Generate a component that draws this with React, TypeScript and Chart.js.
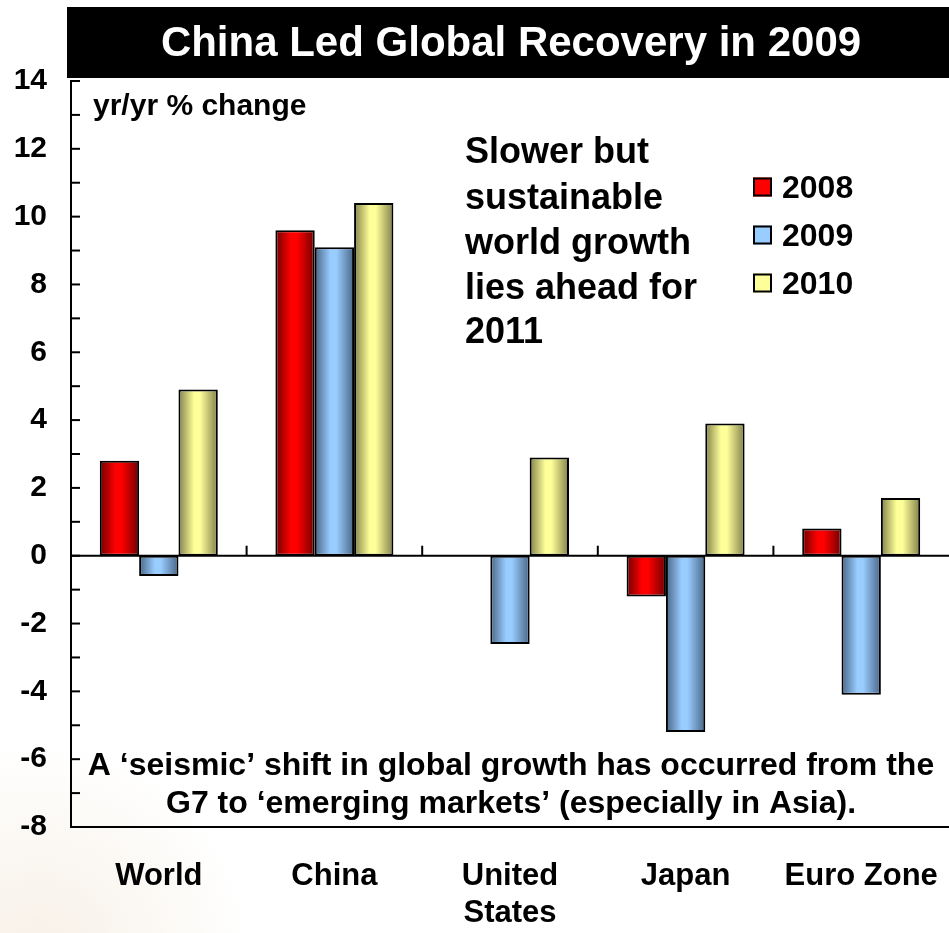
import React, { useEffect, useRef } from 'react';
import { Chart, registerables } from 'chart.js';

Chart.register(...registerables);

// ---- data ----
const categories: (string | string[])[] = ['World', 'China', ['United', 'States'], 'Japan', 'Euro Zone'];
const seriesNames = ['2008', '2009', '2010'];
const values2008 = [2.8, 9.6, 0, -1.2, 0.8];
const values2009 = [-0.6, 9.1, -2.6, -5.2, -4.1];
const values2010 = [4.9, 10.4, 2.9, 3.9, 1.7];
const yMin = -8;
const yMax = 14;
const yLabelStep = 2;

const titleText = 'China Led Global Recovery in 2009';
const unitText = 'yr/yr % change';
const noteLines = ['Slower but', 'sustainable', 'world growth', 'lies ahead for', '2011'];
const bottomLines = [
  'A \u2018seismic\u2019 shift in global growth has occurred from the',
  'G7 to \u2018emerging markets\u2019 (especially in Asia).',
];

// ---- styles ----
const FONT = '"Liberation Sans", Arial, Helvetica, sans-serif';
const baseColors = ['#ff0000', '#99ccff', '#ffff99'];
const edgeColors = ['#700000', '#486585', '#80804a'];

const W = 949;
const H = 933;

const decorPlugin = {
  id: 'decor',
  beforeDraw(chart: any) {
    const ctx = chart.ctx;
    ctx.save();
    ctx.fillStyle = '#ffffff';
    ctx.fillRect(0, 0, chart.width, chart.height);
    const rg = ctx.createRadialGradient(40, chart.height + 20, 0, 40, chart.height + 20, 210);
    rg.addColorStop(0, 'rgba(240,228,210,0.55)');
    rg.addColorStop(1, 'rgba(240,228,210,0)');
    ctx.fillStyle = rg;
    ctx.fillRect(0, 0, 300, chart.height);
    ctx.restore();
  },
  beforeDatasetsDraw(chart: any) {
    const ctx = chart.ctx;
    chart.data.datasets.forEach((ds: any, di: number) => {
      const meta = chart.getDatasetMeta(di);
      meta.data.forEach((el: any) => {
        const p = el.getProps(['x', 'width'], true);
        const g = ctx.createLinearGradient(p.x - p.width / 2, 0, p.x + p.width / 2, 0);
        g.addColorStop(0, edgeColors[di]);
        g.addColorStop(0.4, baseColors[di]);
        g.addColorStop(0.55, baseColors[di]);
        g.addColorStop(1, edgeColors[di]);
        el.options = Object.assign({}, el.options, { backgroundColor: g });
      });
    });
  },
  afterDatasetsDraw(chart: any) {
    const ctx = chart.ctx;
    const area = chart.chartArea;
    const xs = chart.scales.x;
    const ys = chart.scales.y;
    ctx.save();
    ctx.strokeStyle = '#000';
    ctx.lineWidth = 2;
    // zero line
    const y0 = ys.getPixelForValue(0);
    ctx.beginPath();
    ctx.moveTo(area.left, y0);
    ctx.lineTo(area.right, y0);
    ctx.stroke();
    // category boundary ticks on zero line
    for (let i = 1; i < categories.length; i++) {
      const xb = (xs.getPixelForValue(i - 1) + xs.getPixelForValue(i)) / 2;
      ctx.beginPath();
      ctx.moveTo(xb, y0);
      ctx.lineTo(xb, y0 - 10);
      ctx.stroke();
    }
    // y tick marks (inside)
    for (let v = yMin; v <= yMax; v++) {
      const yy = ys.getPixelForValue(v);
      ctx.beginPath();
      ctx.moveTo(area.left, yy);
      ctx.lineTo(area.left + 9, yy);
      ctx.stroke();
    }
    ctx.restore();
  },
  afterDraw(chart: any) {
    const ctx = chart.ctx;
    const area = chart.chartArea;
    ctx.save();
    // title box
    const boxLeft = area.left - 4;
    ctx.fillStyle = '#000';
    ctx.fillRect(boxLeft, 7, chart.width - boxLeft, 71);
    ctx.fillStyle = '#fff';
    ctx.font = `bold 42px ${FONT}`;
    ctx.textAlign = 'center';
    ctx.textBaseline = 'alphabetic';
    ctx.fillText(titleText, 511, 56);

    ctx.fillStyle = '#000';
    ctx.textAlign = 'left';
    ctx.font = `bold 30px ${FONT}`;
    ctx.fillText(unitText, 93, 115);

    ctx.font = `bold 36px ${FONT}`;
    const noteBase = [163, 209, 254, 299, 343];
    noteLines.forEach((t, i) => ctx.fillText(t, 465, noteBase[i]));

    // legend from datasets
    const rowCenters = [187, 235, 283];
    chart.data.datasets.forEach((ds: any, i: number) => {
      const cy = rowCenters[i];
      ctx.fillStyle = baseColors[i];
      ctx.fillRect(753, cy - 9.5, 19, 19);
      ctx.strokeStyle = '#000';
      ctx.lineWidth = 2;
      ctx.strokeRect(754, cy - 8.5, 17, 17);
      ctx.fillStyle = '#000';
      ctx.font = `bold 32px ${FONT}`;
      ctx.fillText(ds.label, 782, cy + 11);
    });

    ctx.textAlign = 'center';
    ctx.font = `bold 32px ${FONT}`;
    ctx.fillText(bottomLines[0], 511, 775);
    ctx.fillText(bottomLines[1], 511, 813);
    ctx.restore();
  },
};

export default function App() {
  const ref = useRef<HTMLCanvasElement | null>(null);
  useEffect(() => {
    if (!ref.current) return;
    Chart.defaults.font.family = FONT;
    const chart = new Chart(ref.current, {
      type: 'bar',
      data: {
        labels: categories as any,
        datasets: [
          { label: seriesNames[0], data: values2008 },
          { label: seriesNames[1], data: values2009 },
          { label: seriesNames[2], data: values2010 },
        ].map((d, i) => ({
          ...d,
          backgroundColor: baseColors[i],
          borderColor: '#000',
          borderWidth: 2,
          borderSkipped: false,
          categoryPercentage: 0.672,
          barPercentage: 1,
        })),
      },
      options: {
        responsive: false,
        animation: false,
        events: [],
        devicePixelRatio: 1,
        layout: { padding: { top: 81, left: 0, right: 0, bottom: 0 } },
        plugins: {
          legend: { display: false },
          tooltip: { enabled: false },
          title: { display: false },
        },
        scales: {
          x: {
            type: 'category',
            offset: true,
            grid: { display: false, drawTicks: false },
            border: { display: true, color: '#000', width: 2 },
            ticks: {
              color: '#000',
              font: { size: 31, weight: 'bold', family: FONT },
              padding: 31,
              maxRotation: 0,
              autoSkip: false,
            },
            afterFit: (s: any) => {
              s.height = 106;
              s.paddingLeft = 0;
              s.paddingRight = 0;
            },
          },
          y: {
            min: yMin,
            max: yMax,
            grid: { display: false, drawTicks: false },
            border: { display: true, color: '#000', width: 2 },
            ticks: {
              stepSize: yLabelStep,
              color: '#000',
              font: { size: 30, weight: 'bold', family: FONT },
              padding: 24,
              autoSkip: false,
            },
            afterFit: (s: any) => {
              s.width = 71;
            },
          },
        },
      },
      plugins: [decorPlugin],
    } as any);
    return () => chart.destroy();
  }, []);
  return (
    <div style={{ position: 'absolute', left: 0, top: 0, width: W, height: H, overflow: 'hidden' }}>
      <canvas ref={ref} width={W} height={H} style={{ width: W, height: H, display: 'block' }} />
    </div>
  );
}
